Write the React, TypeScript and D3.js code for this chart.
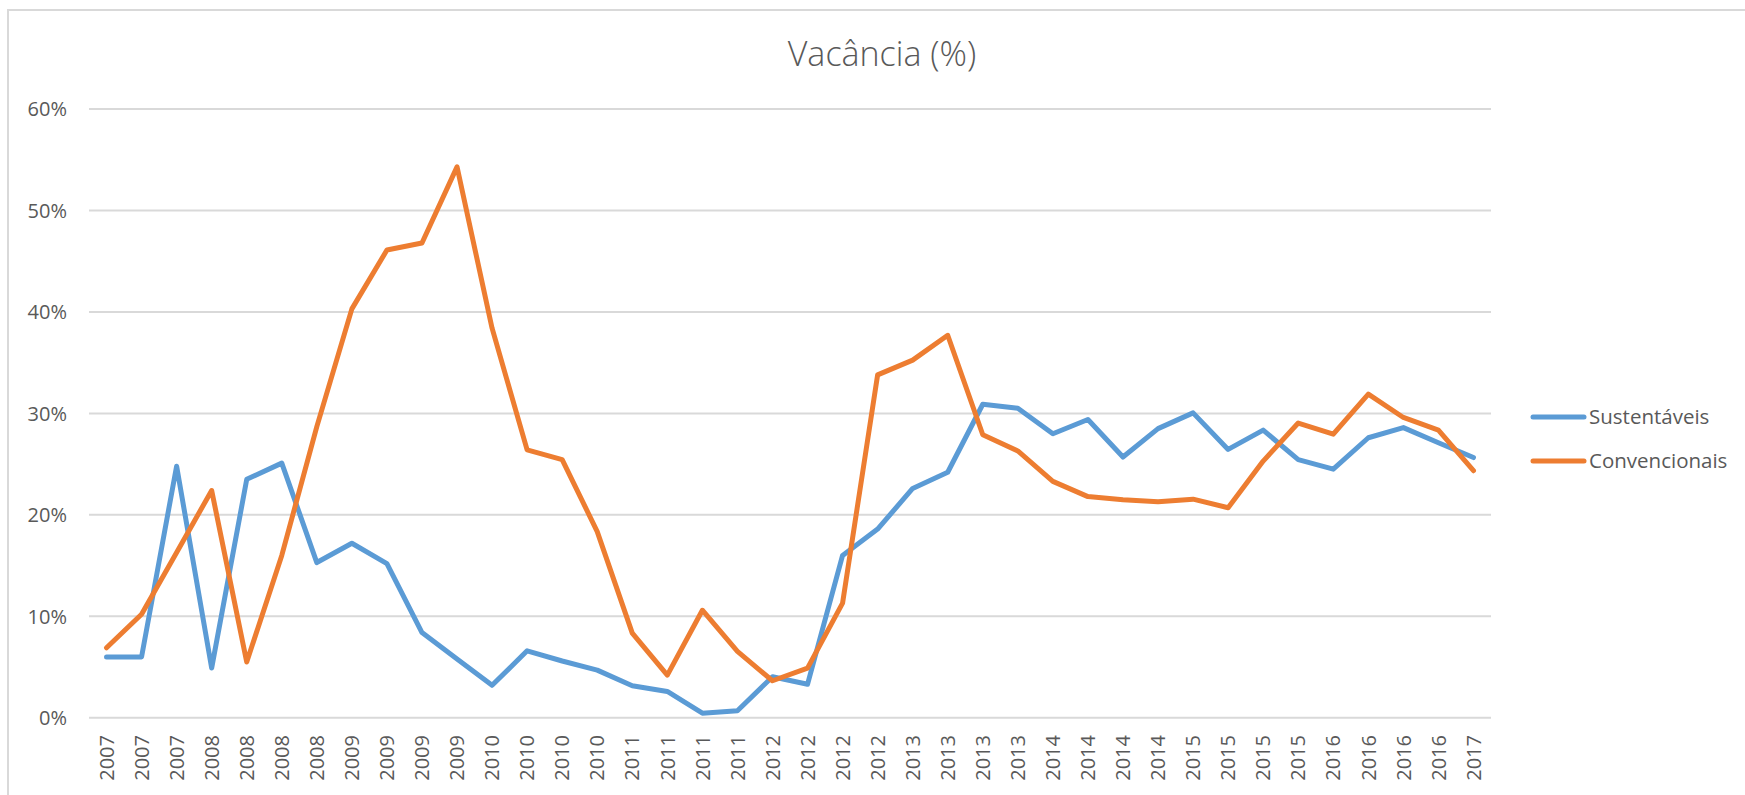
import React from "react";
import * as d3 from "d3";

const categories: string[] = [
  "2007", "2007", "2007",
  "2008", "2008", "2008", "2008",
  "2009", "2009", "2009", "2009",
  "2010", "2010", "2010", "2010",
  "2011", "2011", "2011", "2011",
  "2012", "2012", "2012", "2012",
  "2013", "2013", "2013", "2013",
  "2014", "2014", "2014", "2014",
  "2015", "2015", "2015", "2015",
  "2016", "2016", "2016", "2016",
  "2017",
];

const sustentaveis: number[] = [
  6.0, 6.0, 24.8, 4.9, 23.5, 25.1, 15.3, 17.2, 15.2, 8.4,
  5.8, 3.2, 6.6, 5.6, 4.7, 3.15, 2.6, 0.45, 0.7, 4.05,
  3.3, 16.0, 18.6, 22.6, 24.2, 30.9, 30.5, 28.0, 29.4, 25.7,
  28.5, 30.05, 26.45, 28.35, 25.45, 24.5, 27.6, 28.6, 27.1, 25.65,
];

const convencionais: number[] = [
  6.9, 10.2, 16.3, 22.4, 5.5, 16.0, 28.7, 40.3, 46.1, 46.8,
  54.3, 38.4, 26.4, 25.45, 18.35, 8.35, 4.2, 10.6, 6.55, 3.65,
  4.9, 11.3, 33.8, 35.25, 37.7, 27.9, 26.3, 23.3, 21.8, 21.5,
  21.3, 21.55, 20.7, 25.3, 29.05, 27.95, 31.9, 29.6, 28.35, 24.35,
];

const yTicks: number[] = [0, 10, 20, 30, 40, 50, 60];

const seriesNames: string[] = ["Sustentáveis", "Convencionais"];
const seriesColors: string[] = ["#5B9BD5", "#ED7D31"];

const FONT = "'Open Sans', 'Liberation Sans', sans-serif";
const TEXT = "#595959";

export default function App() {
  const W = 1745;
  const H = 795;
  const left = 89;
  const right = 1491;
  const top = 109;
  const bottom = 717.8;

  const x = d3
    .scaleBand<number>()
    .domain(categories.map((_, i) => i))
    .range([left, right]);
  const cx = (i: number) => (x(i) as number) + x.bandwidth() / 2;
  const y = d3.scaleLinear().domain([0, 60]).range([bottom, top]);

  const line = d3
    .line<number>()
    .x((_, i) => cx(i))
    .y((d) => y(d));

  const series = [sustentaveis, convencionais];

  return (
    <svg
      width={W}
      height={H}
      style={{ position: "absolute", left: 0, top: 0, display: "block", background: "#fff" }}
    >
      <rect x={8} y={10} width={W + 20} height={H + 20} fill="#fff" stroke="#D9D9D9" strokeWidth={2} />
      <text
        x={882}
        y={66}
        textAnchor="middle"
        fontFamily={FONT}
        fontSize={34}
        fontWeight={300}
        fill={TEXT}
      >
        Vacância (%)
      </text>

      {yTicks.map((t) => (
        <g key={t}>
          <line x1={left} x2={right} y1={y(t)} y2={y(t)} stroke="#D9D9D9" strokeWidth={2} />
          <text
            x={67}
            y={y(t)}
            dy="0.36em"
            textAnchor="end"
            fontFamily={FONT}
            fontSize={20}
            fill={TEXT}
          >
            {t}%
          </text>
        </g>
      ))}

      {categories.map((c, i) => (
        <text
          key={i}
          transform={`translate(${cx(i)},735) rotate(-90)`}
          dy="0.36em"
          textAnchor="end"
          fontFamily={FONT}
          fontSize={20}
          fill={TEXT}
        >
          {c}
        </text>
      ))}

      {series.map((s, k) => (
        <path
          key={k}
          d={line(s) || ""}
          fill="none"
          stroke={seriesColors[k]}
          strokeWidth={5}
          strokeLinejoin="round"
          strokeLinecap="round"
        />
      ))}

      {seriesNames.map((n, k) => (
        <g key={n}>
          <line
            x1={1533}
            x2={1584}
            y1={417 + k * 44}
            y2={417 + k * 44}
            stroke={seriesColors[k]}
            strokeWidth={5}
            strokeLinecap="round"
          />
          <text
            x={1589}
            y={417 + k * 44}
            dy="0.36em"
            fontFamily={FONT}
            fontSize={20.5}
            fill={TEXT}
          >
            {n}
          </text>
        </g>
      ))}
    </svg>
  );
}
